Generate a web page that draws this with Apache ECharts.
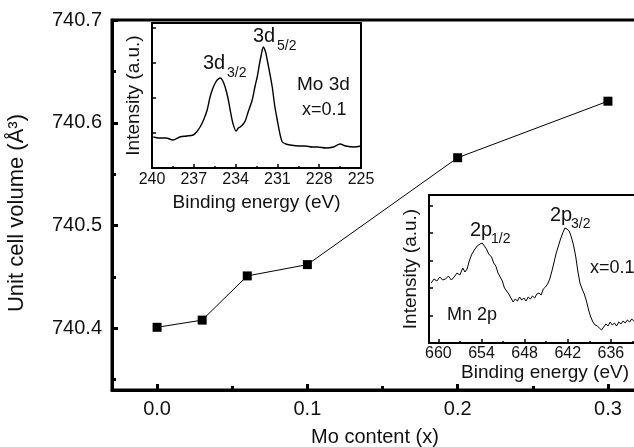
<!DOCTYPE html>
<html>
<head>
<meta charset="utf-8">
<script src="https://cdn.jsdelivr.net/npm/echarts@6/dist/echarts.min.js"></script>
<style>
  html, body { margin: 0; padding: 0; background: #fff; }
  #chart { width: 634px; height: 447px; }
</style>
</head>
<body>
<div id="chart"></div>
<script>
// Main plot: unit cell volume vs Mo content
const moContent = [0, 0.03, 0.06, 0.1, 0.2, 0.3];
const cellVolume = [740.401, 740.408, 740.451, 740.462, 740.566, 740.621];
const contentTicks = [0, 0.1, 0.2, 0.3];
const contentMinorTicks = [0.05, 0.15, 0.25];
const volumeTicks = [740.4, 740.5, 740.6, 740.7];
const volumeMinorTicks = [740.35, 740.45, 740.55, 740.65];

// Inset 1: Mo 3d spectrum
const moEnergy = [239.9, 239.5, 239.0, 238.5, 238.0, 237.5, 237.05, 236.8, 236.55, 236.3, 236.04, 235.85,
  235.68, 235.5, 235.32, 235.1, 234.95, 234.75, 234.55, 234.39, 234.2, 233.96, 233.8, 233.67, 233.45,
  233.31, 233.1, 232.81, 232.6, 232.45, 232.3, 232.16, 232.01, 231.85, 231.73, 231.55, 231.37, 231.2,
  231.01, 230.8, 230.65, 230.4, 230.07, 229.5, 229.0, 228.5, 228.13, 227.5, 226.98, 226.5, 226.1, 225.5, 225.0];
const moIntensity = [31, 30, 30, 28, 31, 32, 33, 36, 41, 48, 58, 70,
  78, 84, 88, 90, 88, 81, 70, 58, 45, 37, 40, 41, 44,
  47, 56, 68, 82, 91, 103, 113, 121, 116, 108, 95, 81, 63,
  48, 33, 26, 24, 23, 22, 22, 21, 21, 20, 21, 24, 22, 21, 22];

// Inset 2: Mn 2p spectrum
const mnEnergy = [661.0, 660.6, 660.2, 659.8, 659.4, 659.0, 658.6, 658.2, 657.8, 657.4, 657.0, 656.6,
  656.3, 656.0, 655.7, 655.4, 655.0, 654.6, 654.2, 653.9, 653.6, 653.3, 653.0, 652.6, 652.3, 652.0,
  651.7, 651.4, 651.1, 650.8, 650.5, 650.2, 649.9, 649.6, 649.3, 649.0, 648.7, 648.4, 648.1, 647.8,
  647.5, 647.2, 646.9, 646.6, 646.3, 646.0, 645.7, 645.4, 645.1, 644.8, 644.5, 644.2, 643.9, 643.6,
  643.3, 643.0, 642.7, 642.4, 642.1, 641.8, 641.5, 641.2, 640.9, 640.6, 640.3, 640.0, 639.7, 639.4,
  639.1, 638.8, 638.5, 638.2, 637.9, 637.6, 637.3, 637.0, 636.7, 636.4, 636.1, 635.8, 635.5, 635.2,
  634.9, 634.6, 634.3, 634.0, 633.7, 633.4, 633.1, 632.8, 632.5];
const mnIntensity = [60, 64, 62, 66, 63, 64, 67, 63, 66, 70, 68, 75,
  71, 74, 82, 88, 93, 97, 99, 100, 97, 94, 89, 86, 80, 77,
  70, 66, 62, 55, 52, 49, 45, 41, 44, 42, 46, 43, 45, 42,
  46, 44, 47, 45, 49, 50, 48, 54, 56, 59, 64, 72, 81, 90,
  97, 104, 110, 115, 114, 112, 106, 98, 87, 72, 60, 54, 49, 42,
  33, 26, 21, 18, 17, 15, 13, 16, 19, 17, 21, 18, 20, 17,
  21, 19, 22, 20, 23, 21, 24, 22, 23];

const FONT = '"Liberation Sans", Arial, sans-serif';
const INK = '#111';

function pairs(xs, ys) {
    return xs.map((x, i) => [x, ys[i]]);
}

// small text pieces for the peak names (with subscripts)
function txt(str, x, y, size) {
    return {
        type: 'text', x: x, y: y, z: 100,
        style: { text: str, font: size + 'px ' + FONT, fill: INK, verticalAlign: 'middle', align: 'left' }
    };
}

const insetTick = { show: true, inside: true, length: 4, lineStyle: { color: '#000', width: 1.5 } };
const insetMinor = { show: true, splitNumber: 2, length: 2, lineStyle: { color: '#000', width: 1.5 } };
const insetLine = { show: true, onZero: false, lineStyle: { color: '#000', width: 2 } };

const chart = echarts.init(document.getElementById('chart'));
const option = {
    animation: false,
    backgroundColor: '#fff',
    grid: [
        { left: 112, right: -4, top: 20, bottom: 57, show: true, borderColor: '#000', borderWidth: 3, outerBoundsMode: 'none' },
        { left: 152, top: 23, width: 209, height: 145, show: true, borderColor: '#000', borderWidth: 2, backgroundColor: '#fff', outerBoundsMode: 'none' },
        { left: 429, top: 195, width: 225, height: 148, show: true, borderColor: '#000', borderWidth: 2, backgroundColor: '#fff', outerBoundsMode: 'none' }
    ],
    xAxis: [
        {
            type: 'value', gridIndex: 0, min: -0.03, max: 0.32,
            name: 'Mo content (x)', nameLocation: 'middle', nameGap: 37,
            nameTextStyle: { fontFamily: FONT, fontSize: 20, color: INK },
            axisLine: { show: true, onZero: false, lineStyle: { color: '#000', width: 3 } },
            axisTick: { show: true, inside: true, length: 6, lineStyle: { color: '#000', width: 3 }, customValues: contentTicks },
            axisLabel: { show: true, margin: 9, fontFamily: FONT, fontSize: 20, color: INK, customValues: contentTicks, formatter: v => v.toFixed(1) },
            splitLine: { show: false }
        },
        {
            type: 'value', gridIndex: 0, min: -0.03, max: 0.32, position: 'bottom',
            axisLine: { show: false, onZero: false },
            axisTick: { show: true, inside: true, length: 4, lineStyle: { color: '#000', width: 3 }, customValues: contentMinorTicks },
            axisLabel: { show: false },
            splitLine: { show: false }
        },
        {
            type: 'value', gridIndex: 1, min: 225, max: 240, interval: 3, inverse: true,
            name: 'Binding energy (eV)', nameLocation: 'middle', nameGap: 25,
            nameTextStyle: { fontFamily: FONT, fontSize: 19, color: INK },
            axisLine: insetLine, axisTick: insetTick, minorTick: insetMinor,
            axisLabel: { margin: 4, fontFamily: FONT, fontSize: 16, color: INK, showMinLabel: true, showMaxLabel: true },
            splitLine: { show: false }
        },
        {
            type: 'value', gridIndex: 2, min: 630, max: 661.3, interval: 6, inverse: true,
            name: 'Binding energy (eV)', nameLocation: 'middle', nameGap: 19,
            nameTextStyle: { fontFamily: FONT, fontSize: 19, color: INK, padding: [0, 0, 0, 7] },
            axisLine: insetLine, axisTick: insetTick, minorTick: insetMinor,
            axisLabel: { margin: 3, fontFamily: FONT, fontSize: 16, color: INK },
            splitLine: { show: false }
        }
    ],
    yAxis: [
        {
            type: 'value', gridIndex: 0, min: 740.34, max: 740.7,
            name: 'Unit cell volume (Å³)', nameLocation: 'middle', nameGap: 84, nameRotate: 90,
            nameTextStyle: { fontFamily: FONT, fontSize: 22, color: INK, padding: [0, 16, 0, 0] },
            axisLine: { show: true, onZero: false, lineStyle: { color: '#000', width: 3 } },
            axisTick: { show: true, inside: true, length: 6, lineStyle: { color: '#000', width: 3 }, customValues: volumeTicks },
            axisLabel: { show: true, margin: 10, fontFamily: FONT, fontSize: 20, color: INK, customValues: volumeTicks, formatter: v => v.toFixed(1) },
            splitLine: { show: false }
        },
        {
            type: 'value', gridIndex: 0, min: 740.34, max: 740.7, position: 'left', offset: 0,
            axisLine: { show: false, onZero: false },
            axisTick: { show: true, inside: true, length: 4, lineStyle: { color: '#000', width: 3 }, customValues: volumeMinorTicks },
            axisLabel: { show: false },
            splitLine: { show: false }
        },
        {
            type: 'value', gridIndex: 1, min: 0, max: 145, interval: 35,
            name: 'Intensity (a.u.)', nameLocation: 'middle', nameGap: 9, nameRotate: 90,
            nameTextStyle: { fontFamily: FONT, fontSize: 19, color: INK },
            axisLine: insetLine, axisTick: insetTick,
            axisLabel: { show: false }, splitLine: { show: false }
        },
        {
            type: 'value', gridIndex: 2, min: 0, max: 148, interval: 27.5,
            name: 'Intensity (a.u.)', nameLocation: 'middle', nameGap: 9, nameRotate: 90,
            nameTextStyle: { fontFamily: FONT, fontSize: 19, color: INK },
            axisLine: insetLine, axisTick: insetTick,
            axisLabel: { show: false }, splitLine: { show: false }
        }
    ],
    series: [
        {
            type: 'line', xAxisIndex: 0, yAxisIndex: 0,
            data: pairs(moContent, cellVolume),
            symbol: 'rect', symbolSize: 9,
            itemStyle: { color: '#000' },
            lineStyle: { color: '#000', width: 1 }
        },
        {
            type: 'line', xAxisIndex: 2, yAxisIndex: 2,
            data: pairs(moEnergy, moIntensity),
            symbol: 'none', smooth: 0.3,
            lineStyle: { color: '#000', width: 1.4 }
        },
        {
            type: 'line', xAxisIndex: 3, yAxisIndex: 3,
            data: pairs(mnEnergy, mnIntensity),
            symbol: 'none',
            lineStyle: { color: '#000', width: 1 }
        }
    ],
    graphic: [
        txt('3d', 203, 63, 20), txt('3/2', 227, 73, 14),
        txt('3d', 253, 36, 20), txt('5/2', 277, 46, 14),
        txt('Mo 3d', 297, 85, 19),
        txt('x=0.1', 302, 110, 18),
        txt('2p', 470, 230, 20), txt('1/2', 491, 239, 14),
        txt('2p', 550, 215, 20), txt('3/2', 571, 224, 14),
        txt('x=0.1', 590, 268, 18),
        txt('Mn 2p', 447, 315, 18)
    ]
};
chart.setOption(option);
</script>
</body>
</html>
